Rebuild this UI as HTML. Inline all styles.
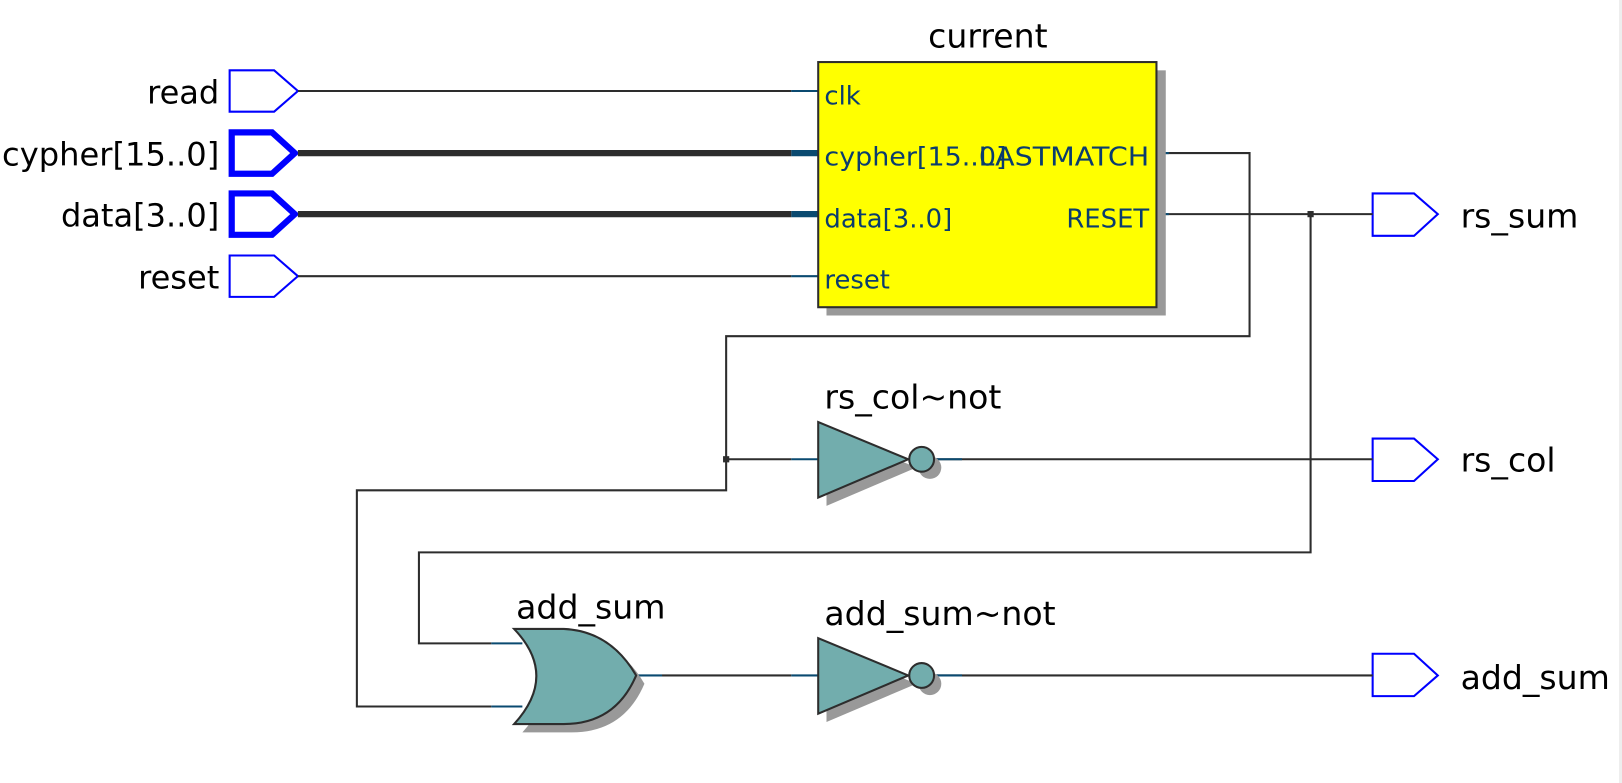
<!DOCTYPE html>
<html><head><meta charset="utf-8"><style>
html,body{margin:0;padding:0;background:#fff;width:1622px;height:783px;overflow:hidden}
svg{display:block}
.t{font-family:"DejaVu Sans","Liberation Sans",sans-serif;font-size:31px;fill:#000}
.u{font-family:"DejaVu Sans","Liberation Sans",sans-serif;font-size:32px;fill:#000}
.p{font-family:"DejaVu Sans","Liberation Sans",sans-serif;font-size:25px;fill:#0a3c6e}
</style></head><body>
<svg width="1622" height="783" viewBox="0 0 1622 783" xmlns="http://www.w3.org/2000/svg">
<rect x="1619" y="0" width="3" height="783" fill="#eee"/>
<g transform="scale(1.0344)">
<g fill="#fff" stroke="#0000ff">
<path d="M222,68 H265 L288,88 L265,108 H222 Z" stroke-width="2"/>
<path d="M224,128 H263 L285,148 L263,168 H224 Z" stroke-width="6"/>
<path d="M224,187 H263 L285,207 L263,227 H224 Z" stroke-width="6"/>
<path d="M222,247 H265 L288,267 L265,287 H222 Z" stroke-width="2"/>
<path d="M1327,187 H1367 L1390,207 L1367,228 H1327 Z" stroke-width="2"/>
<path d="M1327,424 H1367 L1390,444 L1367,465 H1327 Z" stroke-width="2"/>
<path d="M1327,632 H1367 L1390,653 L1367,673 H1327 Z" stroke-width="2"/>
</g>
<g class="t" text-anchor="end">
<text x="212" y="100">read</text>
<text x="212" y="160" textLength="210" lengthAdjust="spacingAndGlyphs">cypher[15..0]</text>
<text x="212" y="219">data[3..0]</text>
<text x="212" y="279">reset</text>
</g>
<g class="u">
<text x="1412" y="220">rs_sum</text>
<text x="1412" y="456">rs_col</text>
<text x="1412" y="666">add_sum</text>
<text x="955" y="46" text-anchor="middle">current</text>
<text x="797" y="395">rs_col~not</text>
<text x="499" y="598">add_sum</text>
<text x="797" y="604">add_sum~not</text>
</g>
<g fill="none" stroke="#2d2d2d" stroke-width="2">
<path d="M288,88 H765"/>
<path d="M288,267 H765"/>
<path d="M1118,148 H1208 V325 H702 V474 H345 V683 H475"/>
<path d="M1118,207 H1327"/>
<path d="M1267,207 V534 H405 V622 H475"/>
<path d="M702,444 H765"/>
<path d="M905,444 H1327"/>
<path d="M640,653 H765"/>
<path d="M905,653 H1327"/>
</g>
<g stroke="#2d2d2d" stroke-width="6"><path d="M288,148 H765"/><path d="M288,207 H765"/></g>
<g stroke="#0a4a70" stroke-width="2" fill="none">
<path d="M765,88 H791 M765,267 H791 M765,444 H791 M765,653 H791 M475,622 H505 M475,683 H505 M615,653 H640 M1118,148 H1130 M1118,207 H1130 M905,444 H930 M905,653 H930"/>
</g>
<g stroke="#0a4a70" stroke-width="6"><path d="M765,148 H791 M765,207 H791"/></g>
<rect x="1264" y="204" width="6" height="6" fill="#2d2d2d"/>
<rect x="699" y="441" width="6" height="6" fill="#2d2d2d"/>
<rect x="799" y="68" width="328" height="237" fill="#999"/>
<rect x="791" y="60" width="327" height="237" fill="#ffff00" stroke="#2d2d2d" stroke-width="2"/>
<g class="p">
<text x="797" y="101">clk</text>
<text x="797" y="160" textLength="176" lengthAdjust="spacingAndGlyphs">cypher[15..0]</text>
<text x="797" y="220">data[3..0]</text>
<text x="797" y="279">reset</text>
<text x="1111" y="160" text-anchor="end" textLength="165" lengthAdjust="spacingAndGlyphs">LASTMATCH</text>
<text x="1111" y="220" text-anchor="end">RESET</text>
</g>
<path d="M799,416 L799,489 L886,452 Z" fill="#999"/>
<circle cx="899" cy="452" r="11" fill="#999"/>
<path d="M791,408 L791,481 L878,444 Z" fill="#72adad" stroke="#2d2d2d" stroke-width="2"/>
<circle cx="891" cy="444" r="12" fill="#72adad" stroke="#2d2d2d" stroke-width="2"/>
<path d="M799,625 L799,698 L886,661 Z" fill="#999"/>
<circle cx="899" cy="661" r="11" fill="#999"/>
<path d="M791,617 L791,690 L878,653 Z" fill="#72adad" stroke="#2d2d2d" stroke-width="2"/>
<circle cx="891" cy="653" r="12" fill="#72adad" stroke="#2d2d2d" stroke-width="2"/>
<path d="M497,608 Q540,653 497,700 H545 Q595,700 615,653 Q590,610 545,608 Z" transform="translate(8,8)" fill="#999"/>
<path d="M497,608 Q540,653 497,700 H545 Q595,700 615,653 Q590,610 545,608 Z" fill="#72adad" stroke="#2d2d2d" stroke-width="2"/>
</g>
</svg>
</body></html>
